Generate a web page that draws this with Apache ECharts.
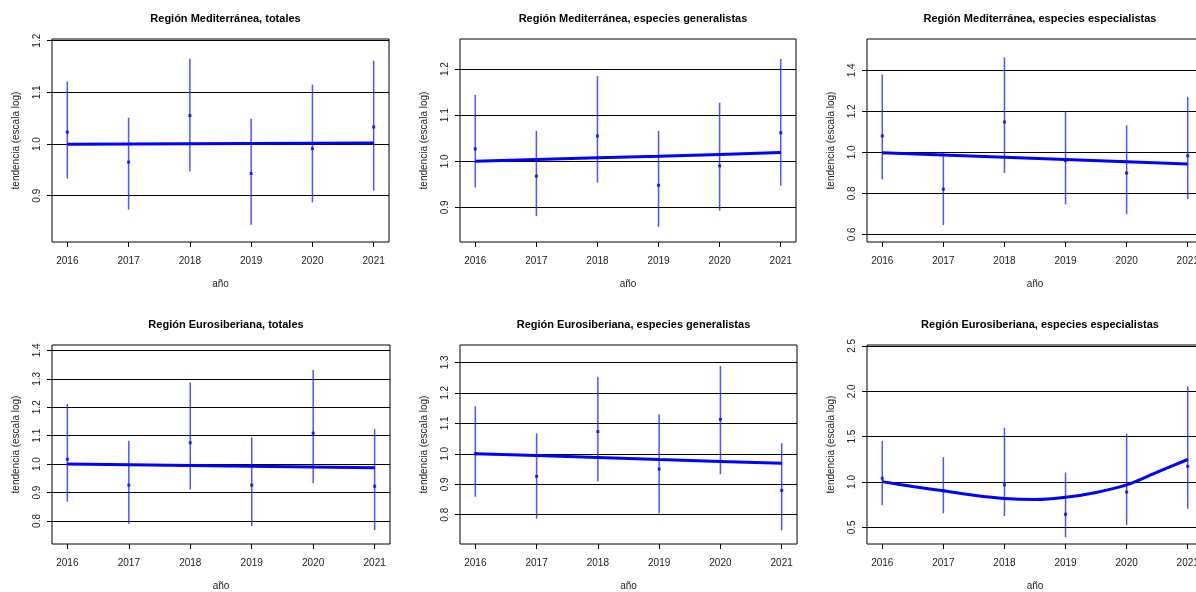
<!DOCTYPE html>
<html>
<head>
<meta charset="utf-8">
<script src="https://cdn.jsdelivr.net/npm/echarts@6/dist/echarts.min.js"></script>
<style>
  html, body { margin: 0; padding: 0; background: #fff; overflow: hidden; }
  #chart-container { width: 1212px; height: 592px; }
</style>
</head>
<body>
<div id="chart-container"></div>
<script>
  const years = [2016, 2017, 2018, 2019, 2020, 2021];
  const halfYears = [2016, 2016.5, 2017, 2017.5, 2018, 2018.5, 2019, 2019.5, 2020, 2020.5, 2021];

  // Región Mediterránea, totales
  const medTotEst = [1.023, 0.965, 1.055, 0.943, 0.991, 1.033];
  const medTotLo = [0.933, 0.873, 0.947, 0.844, 0.887, 0.910];
  const medTotHi = [1.121, 1.051, 1.165, 1.049, 1.115, 1.161];
  const medTotTrend = [0.9995, 1.0, 1.0005, 1.001, 1.0015, 1.002];
  const medTotTicks = [0.9, 1.0, 1.1, 1.2];

  // Región Mediterránea, especies generalistas
  const medGenEst = [1.027, 0.968, 1.055, 0.948, 0.990, 1.062];
  const medGenLo = [0.943, 0.881, 0.954, 0.858, 0.893, 0.947];
  const medGenHi = [1.144, 1.066, 1.185, 1.066, 1.127, 1.222];
  const medGenTrend = [1.0, 1.004, 1.008, 1.011, 1.015, 1.019];
  const medGenTicks = [0.9, 1.0, 1.1, 1.2];

  // Región Mediterránea, especies especialistas
  const medEspEst = [1.080, 0.820, 1.148, 0.960, 0.899, 0.983];
  const medEspLo = [0.868, 0.645, 0.899, 0.746, 0.698, 0.772];
  const medEspHi = [1.380, 0.995, 1.463, 1.201, 1.132, 1.271];
  const medEspTrend = [0.998, 0.987, 0.976, 0.965, 0.954, 0.943];
  const medEspTicks = [0.6, 0.8, 1.0, 1.2, 1.4];

  // Región Eurosiberiana, totales
  const euTotEst = [1.017, 0.926, 1.075, 0.926, 1.109, 0.922];
  const euTotLo = [0.868, 0.790, 0.911, 0.782, 0.934, 0.768];
  const euTotHi = [1.212, 1.082, 1.287, 1.094, 1.331, 1.123];
  const euTotTrend = [1.0, 0.9975, 0.995, 0.9925, 0.99, 0.9875];
  const euTotTicks = [0.8, 0.9, 1.0, 1.1, 1.2, 1.3, 1.4];

  // Región Eurosiberiana, especies generalistas
  const euGenEst = [1.0, 0.926, 1.073, 0.950, 1.113, 0.880];
  const euGenLo = [0.859, 0.787, 0.910, 0.805, 0.933, 0.749];
  const euGenHi = [1.156, 1.067, 1.253, 1.130, 1.288, 1.035];
  const euGenTrend = [1.0, 0.994, 0.988, 0.981, 0.975, 0.969];
  const euGenTicks = [0.8, 0.9, 1.0, 1.1, 1.2, 1.3];

  // Región Eurosiberiana, especies especialistas (trend read every half year)
  const euEspEst = [1.04, 0.903, 0.968, 0.644, 0.889, 1.173];
  const euEspLo = [0.745, 0.655, 0.626, 0.392, 0.525, 0.705];
  const euEspHi = [1.454, 1.274, 1.598, 1.105, 1.533, 2.055];
  const euEspTrend = [1.004, 0.95, 0.903, 0.853, 0.817, 0.806, 0.831, 0.885, 0.968, 1.108, 1.248];
  const euEspTicks = [0.5, 1.0, 1.5, 2.0, 2.5];

  const panels = [
    { title: "Región Mediterránea, totales", est: medTotEst, lo: medTotLo, hi: medTotHi, tx: years, trend: medTotTrend, ticks: medTotTicks, ymin: 0.8104, ymax: 1.2033, box: [52, 39, 337, 203] },
    { title: "Región Mediterránea, especies generalistas", est: medGenEst, lo: medGenLo, hi: medGenHi, tx: years, trend: medGenTrend, ticks: medGenTicks, ymin: 0.825, ymax: 1.2653, box: [460, 39, 336, 203] },
    { title: "Región Mediterránea, especies especialistas", est: medEspEst, lo: medEspLo, hi: medEspHi, tx: years, trend: medEspTrend, ticks: medEspTicks, ymin: 0.5624, ymax: 1.553, box: [867, 39, 336, 203] },
    { title: "Región Eurosiberiana, totales", est: euTotEst, lo: euTotLo, hi: euTotHi, tx: years, trend: euTotTrend, ticks: euTotTicks, ymin: 0.719, ymax: 1.419, box: [52, 345, 338, 203] },
    { title: "Región Eurosiberiana, especies generalistas", est: euGenEst, lo: euGenLo, hi: euGenHi, tx: years, trend: euGenTrend, ticks: euGenTicks, ymin: 0.704, ymax: 1.357, box: [460, 345, 337, 203] },
    { title: "Región Eurosiberiana, especies especialistas", est: euEspEst, lo: euEspLo, hi: euEspHi, tx: halfYears, trend: euEspTrend, ticks: euEspTicks, ymin: 0.3165, ymax: 2.51, box: [867, 345, 336, 203], smooth: true },
  ];

  const font = "Liberation Sans, Arial, sans-serif";

  var dom = document.getElementById("chart-container");
  var myChart = echarts.init(dom, null, { renderer: "canvas" });

  const grid = [], xAxis = [], yAxis = [], title = [], series = [];

  panels.forEach((p, i) => {
    const [left, top, width, height] = p.box;
    grid.push({
      left: left, top: top, width: width, height: height,
      show: true, borderColor: "#000", borderWidth: 1, backgroundColor: "transparent",
    });
    title.push({
      text: p.title,
      left: left + width / 2,
      top: top - 31,
      textAlign: "center",
      textStyle: { fontFamily: font, fontSize: 11, fontWeight: "bold", color: "#000" },
    });
    xAxis.push({
      type: "value", gridIndex: i, min: 2015.75, max: 2021.25,
      name: "año", nameLocation: "middle", nameGap: 37,
      nameTextStyle: { fontFamily: font, fontSize: 10, color: "#222" },
      axisLine: { show: false },
      axisTick: { show: true, length: 5, customValues: years, lineStyle: { color: "#000" } },
      axisLabel: {
        customValues: years, margin: 14, fontFamily: font, fontSize: 10, color: "#222",
        formatter: (v) => String(v),
      },
      splitLine: { show: false },
    });
    yAxis.push({
      type: "value", gridIndex: i, min: p.ymin, max: p.ymax,
      name: "tendencia (escala log)", nameLocation: "middle", nameGap: 31,
      nameTextStyle: { fontFamily: font, fontSize: 10, color: "#222" },
      axisLine: { show: false },
      axisTick: { show: true, length: 5, customValues: p.ticks, lineStyle: { color: "#000" } },
      axisLabel: {
        customValues: p.ticks, rotate: 90, margin: 10,
        fontFamily: font, fontSize: 10, color: "#222",
        formatter: (v) => v.toFixed(1),
      },
      splitLine: { show: false },
    });

    // horizontal reference lines at the tick values
    series.push({
      type: "line", xAxisIndex: i, yAxisIndex: i, data: [], z: 1,
      markLine: {
        z: 1, silent: true, symbol: ["none", "none"], label: { show: false },
        lineStyle: { color: "#000", width: 1, type: "solid" },
        data: p.ticks.map((v) => ({ yAxis: v })),
      },
    });

    // error bars
    series.push({
      type: "custom", xAxisIndex: i, yAxisIndex: i, z: 2,
      data: years.map((y, k) => [y, p.lo[k], p.hi[k]]),
      encode: { x: 0, y: [1, 2] },
      renderItem: function (params, api) {
        const a = api.coord([api.value(0), api.value(1)]);
        const b = api.coord([api.value(0), api.value(2)]);
        return {
          type: "line",
          shape: { x1: a[0], y1: a[1], x2: b[0], y2: b[1] },
          style: { stroke: "rgba(40,40,255,0.8)", lineWidth: 1.5 },
        };
      },
    });

    // trend
    series.push({
      type: "line", xAxisIndex: i, yAxisIndex: i, z: 3,
      data: p.tx.map((y, k) => [y, p.trend[k]]),
      smooth: p.smooth ? 0.3 : false,
      showSymbol: false,
      lineStyle: { color: "#0000ff", width: 3 },
    });

    // estimates
    series.push({
      type: "scatter", xAxisIndex: i, yAxisIndex: i, z: 4,
      data: years.map((y, k) => [y, p.est[k]]),
      symbol: "rect", symbolSize: 3,
      itemStyle: { color: "#0000ff" },
    });
  });

  var option = {
    animation: false,
    backgroundColor: "#fff",
    title: title,
    grid: grid,
    xAxis: xAxis,
    yAxis: yAxis,
    series: series,
  };

  if (option && typeof option === "object") {
    myChart.setOption(option);
  }

  window.addEventListener("resize", myChart.resize);
</script>
</body>
</html>
